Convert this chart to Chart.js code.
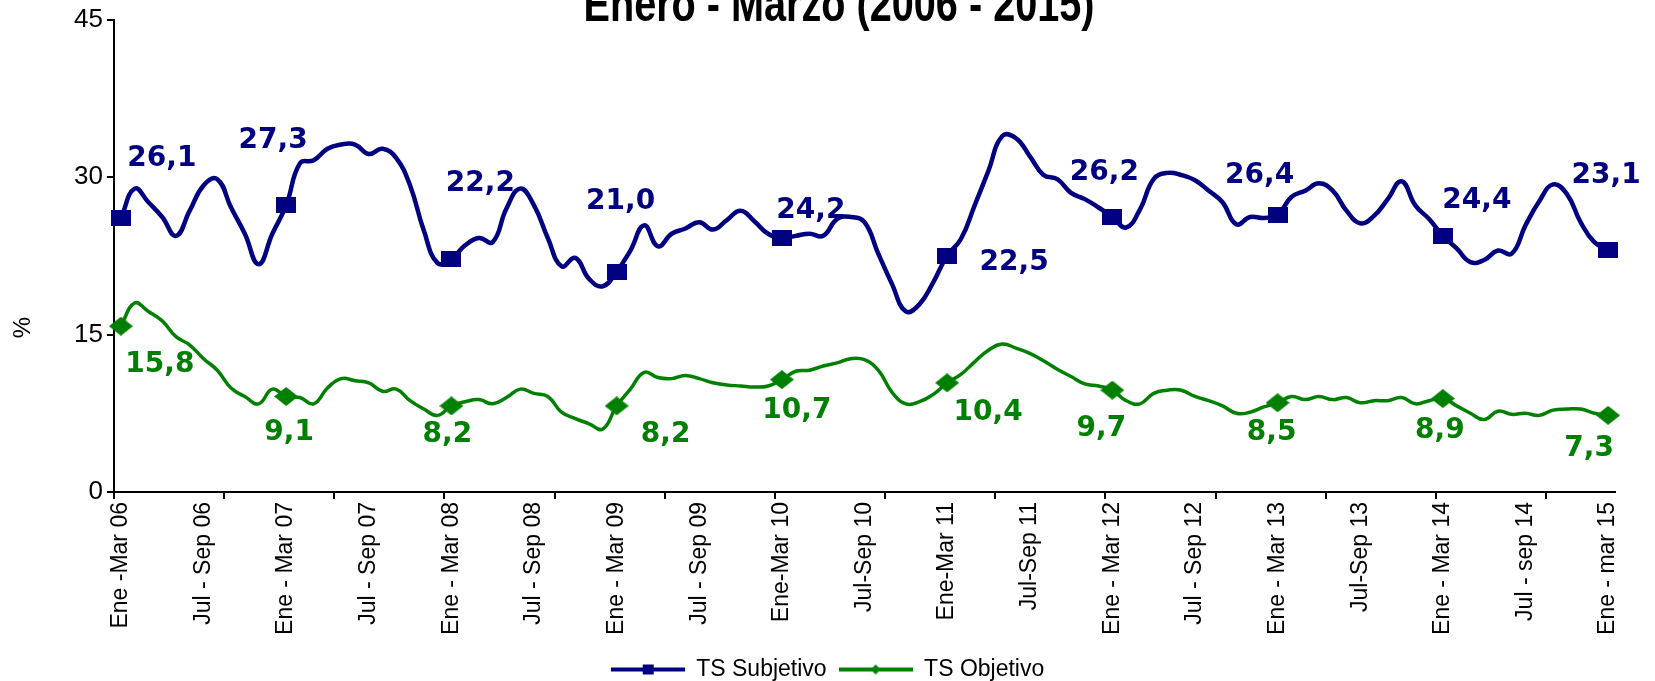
<!DOCTYPE html>
<html lang="es">
<head>
<meta charset="utf-8">
<title>Enero - Marzo (2006 - 2015)</title>
<script src="https://cdn.jsdelivr.net/npm/chart.js@4.4.1/dist/chart.umd.min.js"></script>
<style>
    html, body { margin: 0; padding: 0; background: #fff; }
    #wrap { width: 1655px; height: 681px; }
</style>
</head>
<body>
<div id="wrap"><canvas id="tsChart" width="1655" height="681"></canvas></div>
<script>
// Subempleo (trimestres moviles), Ene-Mar 06 .. Ene-Mar 15

const titleText = 'Enero - Marzo (2006 - 2015)';
const yAxisTitle = '%';

// one label every 6 rolling quarters
const tickLabels = [
    'Ene -Mar 06', 'Jul - Sep 06', 'Ene - Mar 07', 'Jul - Sep 07', 'Ene - Mar 08',
    'Jul - Sep 08', 'Ene - Mar 09', 'Jul - Sep 09', 'Ene-Mar 10', 'Jul-Sep 10',
    'Ene-Mar 11', 'Jul-Sep 11', 'Ene - Mar 12', 'Jul - Sep 12', 'Ene - Mar 13',
    'Jul-Sep 13', 'Ene - Mar 14', 'Jul - sep 14', 'Ene - mar 15'
];

const seriesNames = ['TS Subjetivo', 'TS Objetivo'];

const tsSubjetivo = [
    26.1, 28.9, 27.6, 26.2, 24.4, 26.8, 29.2, 29.8, 27.1, 24.6, 21.7, 24.6,
    27.3, 31.3, 31.6, 32.7, 33.1, 33.1, 32.2, 32.7, 31.8, 29.2, 24.9, 21.8,
    22.2, 23.5, 24.2, 23.8, 27.0, 28.9, 27.3, 24.2, 21.5, 22.3, 20.3, 19.6,
    21.0, 23.0, 25.4, 23.4, 24.6, 25.1, 25.7, 25.0, 25.9, 26.8, 25.8, 24.6,
    24.2, 24.4, 24.6, 24.4, 26.0, 26.2, 25.7, 22.7, 19.8, 17.2, 17.9, 20.0,
    22.5, 24.1, 27.3, 30.6, 33.9, 33.7, 32.0, 30.2, 29.8, 28.5, 27.9, 27.1,
    26.2, 25.2, 26.9, 29.8, 30.4, 30.2, 29.7, 28.7, 27.6, 25.5, 26.2, 26.1,
    26.4, 28.1, 28.7, 29.4, 28.7, 26.8, 25.6, 26.3, 27.9, 29.6, 27.3, 26.0,
    24.4, 23.2, 21.9, 22.1, 23.0, 22.7, 25.4, 27.7, 29.3, 28.4, 25.7, 23.8,
    23.1
];

const tsObjetivo = [
    15.8, 18.0, 17.2, 16.3, 14.8, 14.0, 12.7, 11.6, 9.9, 9.1, 8.4, 9.8,
    9.1, 9.0, 8.4, 9.9, 10.8, 10.6, 10.4, 9.6, 9.8, 8.7, 7.9, 7.3,
    8.2, 8.6, 8.8, 8.4, 9.0, 9.8, 9.4, 9.1, 7.6, 7.0, 6.5, 6.0,
    8.2, 9.8, 11.4, 10.9, 10.8, 11.1, 10.8, 10.4, 10.2, 10.1, 10.0, 10.1,
    10.7, 11.5, 11.6, 12.0, 12.3, 12.7, 12.6, 11.6, 9.5, 8.4, 8.6, 9.3,
    10.4, 11.2, 12.4, 13.5, 14.1, 13.7, 13.2, 12.5, 11.7, 11.0, 10.3, 10.1,
    9.7, 8.7, 8.4, 9.4, 9.7, 9.7, 9.1, 8.7, 8.2, 7.5, 7.6, 8.1,
    8.5, 9.1, 8.8, 9.1, 8.8, 9.0, 8.5, 8.7, 8.7, 9.0, 8.4, 8.7,
    8.9, 8.2, 7.5, 6.9, 7.7, 7.4, 7.5, 7.3, 7.8, 7.9, 7.9, 7.5,
    7.3
];

// markers and value labels only on the Ene-Mar quarters
const labelStep = 12;
const tickLabelStep = 6;
const tickMarkStep = 8;

// where each printed value sits relative to its marker (dx, dy)
const subjetivoLabelOffsets = [[41, -59], [-13, -65], [29, -75], [4, -70], [29, -27],
    [67, 7], [-8, -44], [-18, -39], [34, -35], [-2, -74]];
const objetivoLabelOffsets = [[39, 39], [3, 36], [-4, 29], [49, 29], [15, 31],
    [41, 30], [-11, 39], [-6, 30], [-3, 32], [-19, 33]];

const navy = '#000080';
const green = '#008000';
const textFont = '"Liberation Sans", Arial, sans-serif';

function makeMarker(w, h, color, shape) {
    const c = document.createElement('canvas');
    c.width = w;
    c.height = h;
    const g = c.getContext('2d');
    g.fillStyle = color;
    if (shape === 'rect') {
        g.fillRect(0, 0, w, h);
    } else {
        g.beginPath();
        g.moveTo(w / 2, 0);
        g.lineTo(w, h / 2);
        g.lineTo(w / 2, h);
        g.lineTo(0, h / 2);
        g.closePath();
        g.fill();
    }
    return c;
}

function makeLegendSample(color, marker) {
    const c = document.createElement('canvas');
    c.width = 74;
    c.height = 14;
    const g = c.getContext('2d');
    g.strokeStyle = color;
    g.lineWidth = 4;
    g.beginPath();
    g.moveTo(0, 7);
    g.lineTo(74, 7);
    g.stroke();
    g.drawImage(marker, 37 - marker.width / 2, 7 - marker.height / 2);
    return c;
}

const squareMarker = makeMarker(20, 16, navy, 'rect');
const diamondMarker = makeMarker(24, 19, green, 'diamond');
const legendSamples = [
    makeLegendSample(navy, makeMarker(11, 10, navy, 'rect')),
    makeLegendSample(green, makeMarker(10, 10, green, 'diamond'))
];

// title is partly cut off at the top of the picture; '%' sits below the axis middle
const extraText = {
    id: 'extraText',
    afterDraw(chart) {
        const ctx = chart.ctx;
        ctx.save();
        ctx.font = 'bold 50px "Liberation Sans Narrow", "Liberation Sans", sans-serif';
        const w = ctx.measureText(titleText).width;
        ctx.translate(839, 21);
        ctx.scale(511 / w, 1);
        ctx.textAlign = 'center';
        ctx.textBaseline = 'alphabetic';
        ctx.fillStyle = '#000';
        ctx.fillText(titleText, 0, 0);
        ctx.restore();

        const yScale = chart.scales.y;
        ctx.save();
        ctx.font = '24px ' + textFont;
        ctx.fillStyle = '#000';
        ctx.textAlign = 'center';
        ctx.textBaseline = 'middle';
        ctx.translate(23, yScale.getPixelForValue(15) - 7);
        ctx.rotate(-Math.PI / 2);
        ctx.fillText(yAxisTitle, 0, 0);
        ctx.restore();
    }
};

const valueLabels = {
    id: 'valueLabels',
    afterDatasetsDraw(chart) {
        const ctx = chart.ctx;
        const offsets = [subjetivoLabelOffsets, objetivoLabelOffsets];
        ctx.save();
        ctx.font = 'bold 28px "DejaVu Sans", sans-serif';
        ctx.textAlign = 'center';
        ctx.textBaseline = 'middle';
        chart.data.datasets.forEach((ds, d) => {
            const meta = chart.getDatasetMeta(d);
            ctx.fillStyle = ds.borderColor;
            for (let i = 0, k = 0; i < ds.data.length; i += labelStep, k++) {
                const pt = meta.data[i];
                const text = ds.data[i].toFixed(1).replace('.', ',');
                ctx.fillText(text, pt.x + offsets[d][k][0], pt.y + offsets[d][k][1]);
            }
        });
        ctx.restore();
    }
};

const categories = tsSubjetivo.map((_, i) => i % tickLabelStep === 0 ? tickLabels[i / tickLabelStep] : '');

const ctx = document.getElementById('tsChart').getContext('2d');
new Chart(ctx, {
    type: 'line',
    data: {
        labels: categories,
        datasets: [{
            label: seriesNames[0],
            data: tsSubjetivo,
            borderColor: navy,
            backgroundColor: navy,
            borderWidth: 4.5,
            tension: 0.45,
            fill: false,
            pointStyle: squareMarker,
            pointRadius: c => c.dataIndex % labelStep === 0 ? 10 : 0,
            pointHoverRadius: c => c.dataIndex % labelStep === 0 ? 10 : 0
        }, {
            label: seriesNames[1],
            data: tsObjetivo,
            borderColor: green,
            backgroundColor: green,
            borderWidth: 3.5,
            tension: 0.45,
            fill: false,
            pointStyle: diamondMarker,
            pointRadius: c => c.dataIndex % labelStep === 0 ? 10 : 0,
            pointHoverRadius: c => c.dataIndex % labelStep === 0 ? 10 : 0
        }]
    },
    options: {
        responsive: false,
        animation: false,
        events: [],
        layout: {
            padding: { top: 18, right: 0, left: 0, bottom: -10 }
        },
        plugins: {
            title: { display: false },
            tooltip: { enabled: false },
            legend: {
                display: true,
                position: 'bottom',
                labels: {
                    usePointStyle: true,
                    pointStyleWidth: 74,
                    padding: 12,
                    color: '#000',
                    font: { family: textFont, size: 23 },
                    generateLabels: chart => chart.data.datasets.map((ds, i) => ({
                        text: ds.label,
                        pointStyle: legendSamples[i],
                        fillStyle: 'transparent',
                        strokeStyle: 'transparent',
                        lineWidth: 0,
                        fontColor: '#000',
                        hidden: false,
                        datasetIndex: i
                    }))
                }
            }
        },
        scales: {
            x: {
                type: 'category',
                offset: true,
                afterFit(scale) {
                    scale.height = 154;
                    scale.paddingRight = 40;
                },
                grid: {
                    offset: true,
                    drawOnChartArea: false,
                    drawTicks: true,
                    tickLength: 7,
                    lineWidth: 2,
                    color: c => c.index % tickMarkStep === 0 ? '#000' : 'rgba(0,0,0,0)'
                },
                border: { display: true, color: '#000', width: 2 },
                ticks: {
                    autoSkip: false,
                    maxRotation: 90,
                    minRotation: 90,
                    padding: 3,
                    color: '#000',
                    font: { family: textFont, size: 23 }
                }
            },
            y: {
                min: 0,
                max: 45,
                afterFit(scale) { scale.width = 114; },
                grid: {
                    drawOnChartArea: false,
                    drawTicks: true,
                    tickLength: 7,
                    lineWidth: 2,
                    color: '#000'
                },
                border: { display: true, color: '#000', width: 2 },
                ticks: {
                    stepSize: 15,
                    padding: 4,
                    color: '#000',
                    font: { family: textFont, size: 26 }
                }
            }
        }
    },
    plugins: [extraText, valueLabels]
});
</script>
</body>
</html>
